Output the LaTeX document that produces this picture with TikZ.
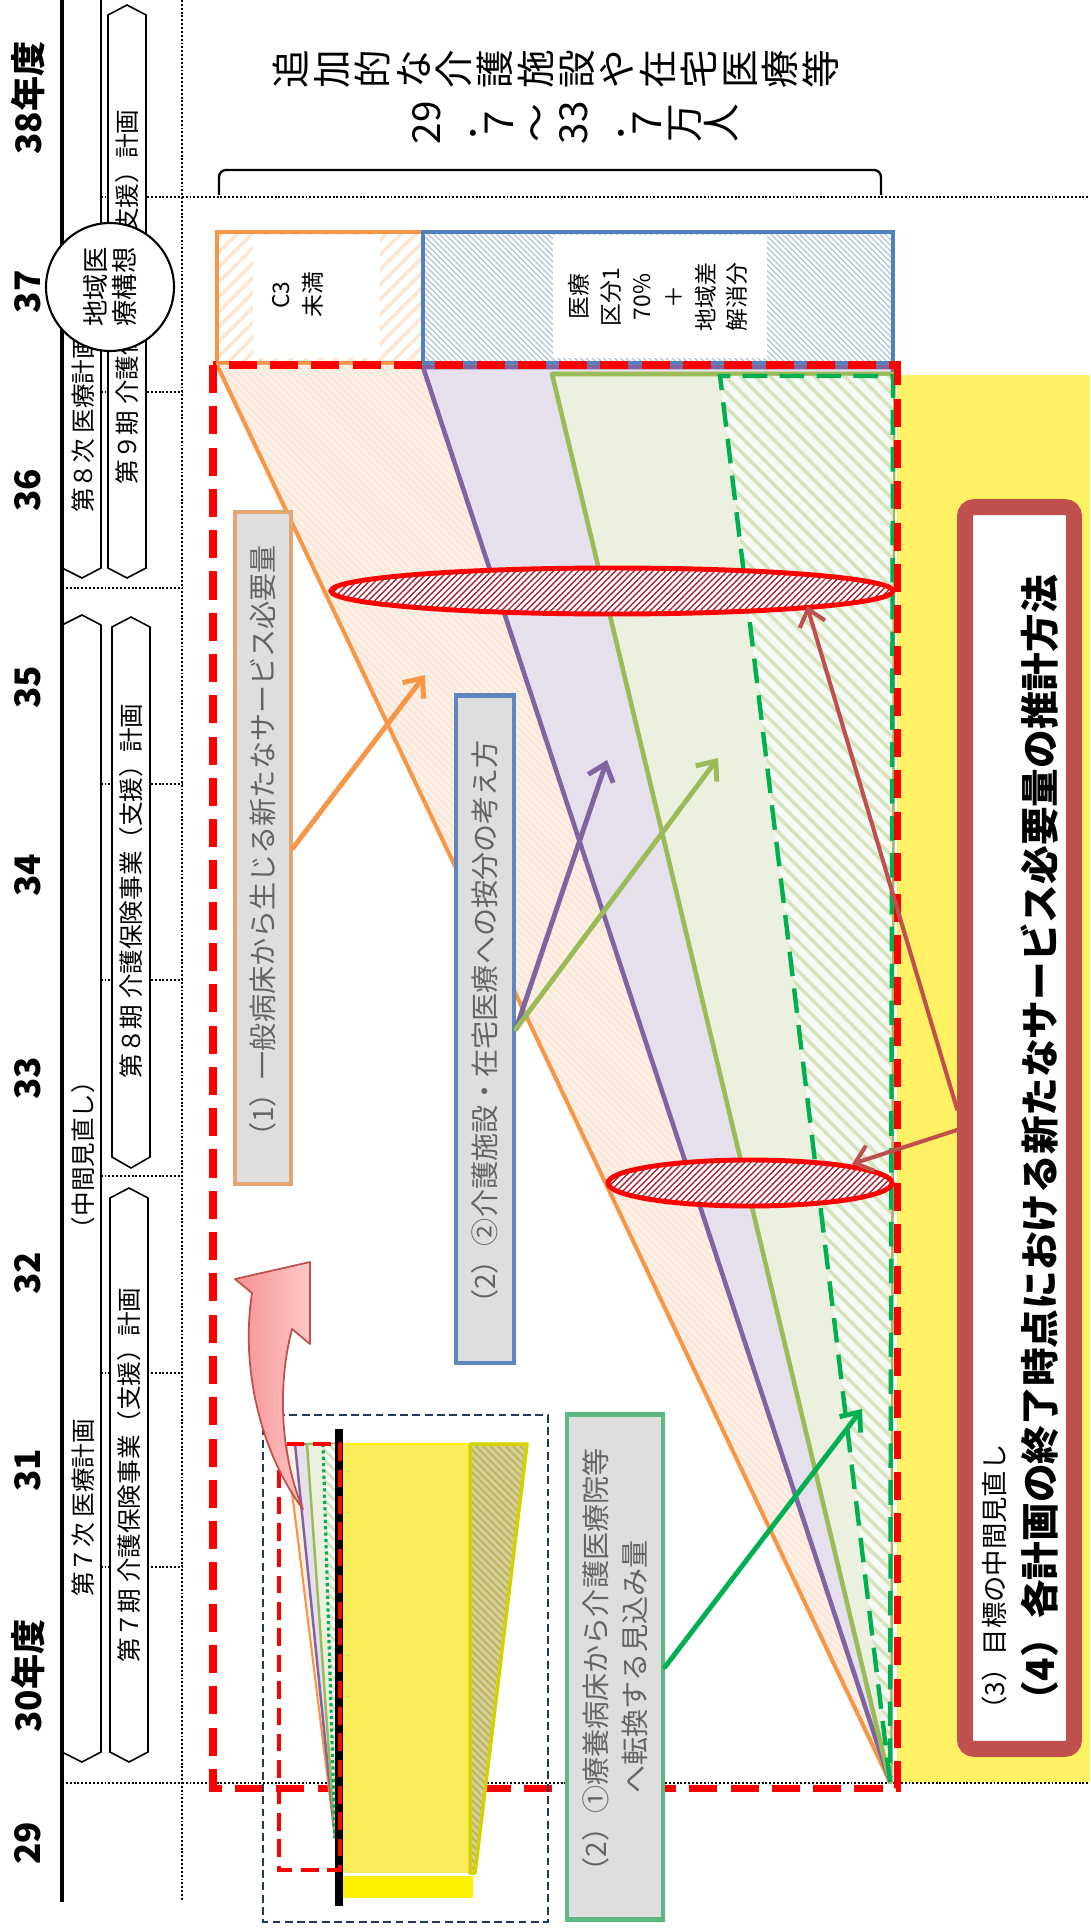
\documentclass[tikz,border=0pt]{standalone}
\usepackage{fontspec}
\newfontfamily\jp{Noto Sans CJK JP}
\usetikzlibrary{arrows.meta,patterns.meta,shapes.geometric}
\newcommand\myfs[2]{\fontsize{#1}{#2}\selectfont}
\definecolor{cOr}{RGB}{247,150,70}
\definecolor{cPu}{RGB}{128,100,162}
\definecolor{cLg}{RGB}{155,187,89}
\definecolor{cGr}{RGB}{0,176,80}
\definecolor{cBr}{RGB}{192,80,77}
\definecolor{cBl}{RGB}{79,129,189}
\definecolor{cRed}{RGB}{255,0,0}
\definecolor{cYel}{RGB}{255,240,100}
\definecolor{fOr}{RGB}{252,240,230}
\definecolor{hOr}{RGB}{248,230,213}
\definecolor{hC3}{RGB}{252,230,210}
\definecolor{hBl}{RGB}{176,194,218}
\definecolor{fPu}{RGB}{229,224,236}
\definecolor{fLg}{RGB}{235,241,222}
\definecolor{hLg}{RGB}{214,227,188}
\definecolor{fGh}{RGB}{246,250,244}
\definecolor{hEl}{RGB}{165,35,55}
\definecolor{boxgray}{RGB}{222,222,222}
\definecolor{txtgray}{RGB}{100,100,100}
\definecolor{bOne}{RGB}{225,166,114}
\definecolor{bTwo}{RGB}{95,135,190}
\definecolor{bThree}{RGB}{92,184,130}
\definecolor{navyd}{RGB}{31,56,100}
\definecolor{yelm}{RGB}{250,236,90}
\definecolor{olF}{RGB}{214,206,150}
\definecolor{olH}{RGB}{185,180,90}
\definecolor{olB}{RGB}{210,210,0}
\definecolor{pinkD}{RGB}{245,145,145}
\definecolor{pinkL}{RGB}{255,200,200}
\begin{document}
\begin{tikzpicture}[x=0.02cm,y=-0.02cm,
  dotl/.style={line width=1.1pt,dash pattern=on 1.1pt off 1.1pt},
  band/.style={draw=black,line width=0.9pt,fill=white},
  bandtxt/.style={rotate=90,font=\jp\myfs{14}{16},inner sep=0pt},
  yr/.style={rotate=90,font=\jp\bfseries\myfs{20}{24},inner sep=0pt},
  lbl/.style={rotate=90,fill=boxgray,line width=2.5pt,text=txtgray,font=\jp\myfs{16}{22},inner sep=0pt,align=center},
  arr/.style={line width=2.8pt,line cap=round,-{Straight Barb[length=9pt,width=15pt]}},
]
\useasboundingbox (0,0) rectangle (1090,1932);
\fill[white] (0,0) rectangle (1090,1932);

% grid
\draw[dotl] (182,0) -- (182,1900);
\draw[dotl] (62,197) -- (1090,197);
\foreach \yy in {392,588,784,980,1176,1373,1567} \draw[dotl] (62,\yy) -- (182,\yy);
\draw[dotl] (62,1783) -- (1090,1783);

% bands
\draw[band] (62,-20) -- (62,568) -- (82,578) -- (101,568) -- (101,-20);
\draw[band] (62,625) -- (82,615) -- (101,625) -- (101,1752) -- (82,1762) -- (62,1752) -- cycle;
\draw[band] (108,15) -- (127,5) -- (146,15) -- (146,568) -- (127,578) -- (108,568) -- cycle;
\draw[band] (112,627) -- (131,617) -- (150,627) -- (150,1157) -- (131,1168) -- (112,1157) -- cycle;
\draw[band] (110,1198) -- (129,1188) -- (148,1198) -- (148,1752) -- (129,1762) -- (110,1752) -- cycle;
\draw[line width=2pt] (62,0) -- (62,1902);

\node[bandtxt,anchor=west] (t8j) at (83,513) {第８次 医療計画};
\node[bandtxt] (t9k) at (127,297) {第９期 介護保険事業（支援）計画};
\node[bandtxt] (t8k) at (131,891) {第８期 介護保険事業（支援）計画};
\node[bandtxt] (t7k) at (129,1475) {第７期 介護保険事業（支援）計画};
\node[bandtxt] (tmid) at (83,1155) {（中間見直し）};
\node[bandtxt] (t7j) at (83,1508) {第７次 医療計画};

\node[circle,draw,line width=1.2pt,fill=white,minimum size=2.56cm,inner sep=0pt,rotate=90,align=center,font=\jp\myfs{15}{17}] (kousou) at (110,287) {地域医\\療構想};

% years
\node[yr] (y38) at (28,98) {38年度};
\node[yr] (y37) at (28,292) {37};
\node[yr] (y36) at (28,490) {36};
\node[yr] (y35) at (28,687) {35};
\node[yr] (y34) at (28,875) {34};
\node[yr] (y33) at (28,1078) {33};
\node[yr] (y32) at (28,1273) {32};
\node[yr] (y31) at (28,1470) {31};
\node[yr] (y30) at (28,1676) {30年度};
\node[yr] (y29) at (28,1843) {29};

% yellow
\fill[cYel] (897,375) rectangle (1090,1782);

% C3 box
\path[preaction={fill=white},pattern={Lines[angle=45,distance=6pt,line width=2pt]},pattern color=hC3] (217,232) rectangle (423,363);
\fill[white] (253,235) rectangle (380,358);
\draw[cOr,line width=2.3pt] (217,232) rectangle (423,363);
\node[rotate=90,align=center,inner sep=0pt,font=\jp\myfs{13}{18.5}] (c3) at (298,295) {C3\\未満};

% blue box
\path[preaction={fill=white},pattern={Lines[angle=-45,distance=2.3pt,line width=0.7pt]},pattern color=hBl] (423,232) rectangle (893,363);
\fill[white] (553,235) rectangle (767,358);
\draw[cBl,line width=2.3pt] (423,232) rectangle (893,363);
\node[rotate=90,align=center,inner sep=0pt,font=\jp\myfs{13}{18}] (iryo) at (658,297) {医療\\区分1\\70\%\\＋\\地域差\\解消分};

% fan
\coordinate (O) at (890,1782);
\path[preaction={fill=fOr},pattern={Lines[angle=-45,distance=3pt,line width=0.9pt]},pattern color=hOr] (217,365) -- (893,365) -- (O) -- cycle;
\draw[cOr,line width=2.3pt] (217,365) -- (O);
\filldraw[fill=fPu,draw=cPu,line width=2.6pt,line join=round] (423,367) -- (893,367) -- (O) -- cycle;
\filldraw[fill=fLg,draw=cLg,line width=2.6pt,line join=round] (552,374) -- (893,374) -- (O) -- cycle;
\path[preaction={fill=fGh},pattern={Lines[angle=-45,distance=6pt,line width=2pt]},pattern color=hLg] (720,376) -- (893,376) -- (O) -- cycle;
\draw[cGr,line width=2.5pt,dash pattern=on 14pt off 7pt] (O) -- (720,376) -- (893,376) -- (O);

% red dashed frame
\draw[cRed,line width=4pt,dash pattern=on 16pt off 7.5pt] (213,365) rectangle (897,1788);

% ellipses
\path[preaction={fill=white},pattern={Lines[angle=45,distance=2.5pt,line width=0.8pt]},pattern color=hEl] (612,591) ellipse [x radius=281,y radius=23];
\draw[cRed,line width=2.8pt] (612,591) ellipse [x radius=281,y radius=23];
\path[preaction={fill=white},pattern={Lines[angle=45,distance=2.5pt,line width=0.8pt]},pattern color=hEl] (750,1183) ellipse [x radius=142,y radius=23];
\draw[cRed,line width=2.8pt] (750,1183) ellipse [x radius=142,y radius=23];

% label boxes
\node[lbl,draw=bOne,minimum width=13.44cm,minimum height=1.11cm] (b1) at (263,848) {（1）一般病床から生じる新たなサービス必要量};
\node[lbl,draw=bTwo,minimum width=13.35cm,minimum height=1.15cm] (b2) at (485,1029) {（2）②介護施設・在宅医療への按分の考え方};
\node[lbl,draw=bThree,minimum width=10.1cm,minimum height=1.91cm] (b3) at (615,1667) {（2）①療養病床から介護医療院等\\へ転換する見込み量};

% arrows
\coordinate (a1t) at (425,675);
\coordinate (a2t) at (607,760);
\coordinate (a3t) at (718,758);
\coordinate (a4t) at (862,1409);
\draw[arr,cOr] (b1.south) -- (a1t);
\draw[arr,cPu] (b2.south) -- (a2t);
\draw[arr,cLg] (b2.south) -- (a3t);
\draw[arr,cGr] (b3.south) -- (a4t);
\coordinate (s1) at (957,1109);
\coordinate (s2) at (957,1130);
\coordinate (t1) at (807,606);
\coordinate (t2) at (852,1164);
\draw[arr,cBr,line width=2.3pt] (s1) -- (t1);
\draw[arr,cBr,line width=2.3pt] (s2) -- (t2);

% title box
\node[rotate=90,draw=cBr,line width=9pt,fill=white,rounded corners=5pt,minimum width=24.84cm,minimum height=2.18cm] (tb) at (1019.5,1128) {};
\node[rotate=90,anchor=west,inner sep=0pt,font=\jp\myfs{15}{17}] (t3) at (994,1723) {（3）目標の中間見直し};
\node[rotate=90,anchor=west,inner sep=0pt,font=\jp\bfseries\myfs{22}{24}] (t4) at (1040,1720) {（4）各計画の終了時点における新たなサービス必要量の推計方法};

% mini chart
\draw[navyd,line width=1.2pt,dash pattern=on 4.5pt off 2.5pt] (263,1415) rectangle (548,1922);
\coordinate (Om) at (335,1838);
\fill[fOr] (286,1444) -- (337,1444) -- (Om) -- cycle;
\draw[cOr,line width=1.2pt] (286,1444) -- (Om);
\filldraw[fill=fPu,draw=cPu,line width=1.4pt] (295,1444) -- (337,1444) -- (Om) -- cycle;
\filldraw[fill=fLg,draw=cLg,line width=1.4pt] (307,1444) -- (337,1444) -- (Om) -- cycle;
\path[preaction={fill=fGh},pattern={Lines[angle=-45,distance=4pt,line width=1.5pt]},pattern color=hLg] (323,1444) -- (337,1444) -- (Om) -- cycle;
\draw[cGr,line width=1.8pt,dash pattern=on 1.8pt off 1.8pt] (323,1444) -- (Om);
\fill[yelm] (343,1444) rectangle (470,1873);
\draw[yellow,line width=1.5pt] (343,1444) -- (470,1444);
\path[preaction={fill=olF},pattern={Lines[angle=-45,distance=3pt,line width=1pt]},pattern color=olH] (470,1444) -- (527,1444) -- (475,1873) -- (470,1873) -- cycle;
\draw[olB,line width=2pt,line join=round] (470,1444) -- (527,1444) -- (475,1873) -- (470,1873) -- cycle;
\fill[yellow] (343,1876) rectangle (473,1898);
\draw[line width=4.5pt] (339,1429) -- (339,1906);
\draw[cRed,line width=2.8pt,dash pattern=on 10pt off 5pt] (279,1444) rectangle (340,1870);

% pink curved arrow
\draw[left color=pinkD,right color=pinkL,draw=cBr,line width=1pt,line join=round] (303,1509) .. controls (262,1455) and (240,1370) .. (252,1293) -- (235,1279) -- (310,1262) -- (310,1344) -- (292,1329) .. controls (276,1390) and (282,1460) .. (303,1509) -- cycle;

% header
\draw[line width=1.3pt,rounded corners=4pt] (219,195) -- (219,170) -- (881,170) -- (881,195);
\node[rotate=90,align=center,inner sep=0pt,font=\jp\myfs{22}{23.2}] (h1) at (556,69) {追\\加\\的\\な\\介\\護\\施\\設\\や\\在\\宅\\医\\療\\等};
\node[rotate=90,align=center,inner sep=0pt,font=\jp\myfs{22}{21}] (h2) at (575,123) {29\\．\\７\\～\\33\\．\\７\\万\\人};
\end{tikzpicture}
\end{document}
